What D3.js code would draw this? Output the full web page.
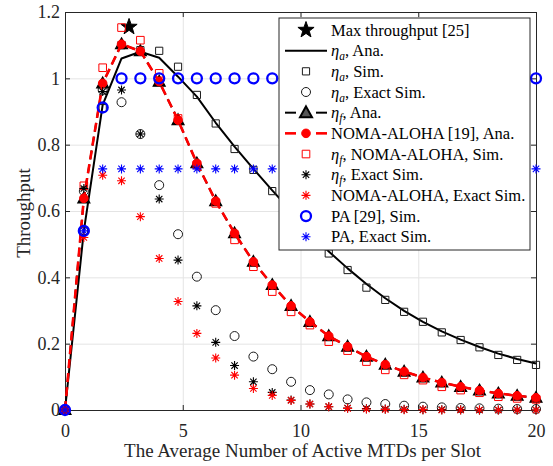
<!DOCTYPE html>
<html><head><meta charset="utf-8">
<script src="https://cdn.jsdelivr.net/npm/d3@7"></script>
<style>body{margin:0;background:#fff}svg{display:block}</style>
</head><body><svg id="c" width="553" height="466"></svg>
<script>
// ---------------- data ----------------
const xs = [0,0.8,1.6,2.4,3.2,4,4.8,5.6,6.4,7.2,8,8.8,9.6,10.4,11.2,12,12.8,13.6,14.4,15.2,16,16.8,17.6,18.4,19.2,20];
const maxThrX = [2.72];
const maxThrY = [1.155];
const etaAAna   = [0,0.54,0.92,1.06,1.08,1.062,1.005,0.945,0.866,0.794,0.727,0.662,0.600,0.540,0.478,0.427,0.380,0.337,0.299,0.266,0.237,0.212,0.190,0.170,0.154,0.140];
const etaASim   = [0,0.54,0.91,1.10,1.085,1.083,1.035,0.95,0.864,0.787,0.724,0.66,0.60,0.535,0.472,0.422,0.369,0.332,0.296,0.266,0.234,0.211,0.189,0.166,0.151,0.136];
const etaAExact = [0,0.66,0.965,0.928,0.832,0.678,0.53,0.402,0.301,0.223,0.161,0.123,0.085,0.06,0.047,0.032,0.023,0.018,0.013,0.01,0.008,0.006,0.005,0.004,0.003,0.003];
const etaFAna   = [0,0.638,0.985,1.103,1.082,0.99,0.874,0.744,0.63,0.533,0.447,0.377,0.314,0.266,0.223,0.191,0.161,0.137,0.116,0.098,0.083,0.07,0.059,0.05,0.043,0.037];
const nomaAna   = [0,0.638,0.985,1.103,1.082,0.99,0.874,0.744,0.63,0.533,0.447,0.377,0.314,0.266,0.223,0.191,0.161,0.137,0.116,0.098,0.083,0.07,0.059,0.05,0.043,0.037];
const nomaSim   = [0,0.676,1.032,1.153,1.115,1.015,0.879,0.739,0.623,0.513,0.432,0.357,0.296,0.256,0.206,0.179,0.146,0.121,0.106,0.09,0.07,0.06,0.052,0.04,0.035,0.032];
const etaFExact = [0,0.668,0.96,0.965,0.832,0.636,0.452,0.314,0.204,0.134,0.085,0.053,0.030,0.018,0.010,0.006,0.004,0.003,0.002,0.001,0.001,0.001,0,0,0,0];
const nomaExact = [0,0.52,0.708,0.691,0.583,0.457,0.327,0.231,0.157,0.105,0.065,0.044,0.029,0.018,0.010,0.005,0.003,0.002,0.001,0.001,0,0,0,0,0,0];
const paSim     = [0,0.54,0.912,1,1,1,1,1,1,1,1,1,1,1,1,1,1,1,1,1,1,1,1,1,1,1];
const paExact   = [0,0.54,0.727,0.727,0.727,0.727,0.727,0.727,0.727,0.727,0.727,0.727,0.727,0.727,0.727,0.727,0.727,0.727,0.727,0.727,0.727,0.727,0.727,0.727,0.727,0.727];
const xTicks = [0,5,10,15,20];
const xTickLabels = ["0","5","10","15","20"];
const yTicks = [0,0.2,0.4,0.6,0.8,1,1.2];
const yTickLabels = ["0","0.2","0.4","0.6","0.8","1","1.2"];
const xLabel = "The Average Number of Active MTDs per Slot";
const yLabel = "Throughput";
const legendLabels = [
  [{t:"Max throughput [25]"}],
  [{t:"η",i:1},{t:"a",i:1,s:1},{t:", Ana."}],
  [{t:"η",i:1},{t:"a",i:1,s:1},{t:", Sim."}],
  [{t:"η",i:1},{t:"a",i:1,s:1},{t:", Exact Sim."}],
  [{t:"η",i:1},{t:"f",i:1,s:1},{t:", Ana."}],
  [{t:"NOMA-ALOHA [19], Ana."}],
  [{t:"η",i:1},{t:"f",i:1,s:1},{t:", NOMA-ALOHA, Sim."}],
  [{t:"η",i:1},{t:"f",i:1,s:1},{t:", Exact Sim."}],
  [{t:"NOMA-ALOHA, Exact Sim."}],
  [{t:"PA [29], Sim."}],
  [{t:"PA, Exact Sim."}]
];

// ---------------- setup ----------------
const FONT = "'Liberation Serif','Times New Roman',serif";
const AX = "#262626";
const svg = d3.select("#c");
const x = d3.scaleLinear().domain([0,20]).range([65,536]);
const y = d3.scaleLinear().domain([0,1.2]).range([410,12]);
const [L,R] = x.range(), [B,T] = y.range();
const W = R-L, H = B-T;

// grid
svg.append("g").attr("transform",`translate(0,${B})`)
  .call(d3.axisBottom(x).tickValues(xTicks).tickSize(-H).tickFormat(""))
  .call(g=>{g.select(".domain").remove();g.selectAll("line").attr("stroke","#e4e4e4");});
svg.append("g").attr("transform",`translate(${L},0)`)
  .call(d3.axisLeft(y).tickValues(yTicks).tickSize(-W).tickFormat(""))
  .call(g=>{g.select(".domain").remove();g.selectAll("line").attr("stroke","#e4e4e4");});

// axes
function styleAxis(g){
  g.select(".domain").attr("stroke",AX);
  g.selectAll(".tick line").attr("stroke",AX);
  g.selectAll("text").attr("font-family",FONT).attr("font-size",18).attr("fill",AX);
}
svg.append("g").attr("transform",`translate(0,${B})`)
  .call(d3.axisBottom(x).tickValues(xTicks).tickSize(-5).tickPadding(14).tickSizeOuter(0).tickFormat((d,i)=>xTickLabels[i])).call(styleAxis);
svg.append("g").attr("transform",`translate(0,${T})`)
  .call(d3.axisTop(x).tickValues(xTicks).tickSize(-5).tickSizeOuter(0).tickFormat("")).call(styleAxis);
svg.append("g").attr("transform",`translate(${L},0)`)
  .call(d3.axisLeft(y).tickValues(yTicks).tickSize(-5).tickPadding(5).tickSizeOuter(0).tickFormat((d,i)=>yTickLabels[i])).call(styleAxis);
svg.append("g").attr("transform",`translate(${R},0)`)
  .call(d3.axisRight(y).tickValues(yTicks).tickSize(-5).tickSizeOuter(0).tickFormat("")).call(styleAxis);

// labels
svg.append("text").attr("x",(L+R)/2+2).attr("y",457).attr("text-anchor","middle")
  .attr("font-family",FONT).attr("font-size",19).attr("fill",AX).text(xLabel);
svg.append("text").attr("transform",`translate(30,${(T+B)/2+2}) rotate(-90)`).attr("text-anchor","middle")
  .attr("font-family",FONT).attr("font-size",19).attr("fill",AX).text(yLabel);

// ---------------- marker shapes ----------------
const shapes = {
  square: s=>`M${-s},${-s}H${s}V${s}H${-s}Z`,
  circle: r=>`M${r},0A${r},${r} 0 1,1 ${-r},0A${r},${r} 0 1,1 ${r},0Z`,
  asterisk: r=>{const d=r*0.7071;return `M${-r},0H${r}M0,${-r}V${r}M${-d},${-d}L${d},${d}M${-d},${d}L${d},${-d}`;},
  triangle: r=>`M0,${-r*1.05}L${r},${r*0.75}L${-r},${r*0.75}Z`,
  star: r=>{let p=[];for(let k=0;k<10;k++){const rr=k%2?r*0.4:r;const a=-Math.PI/2+k*Math.PI/5;p.push([rr*Math.cos(a),rr*Math.sin(a)]);}return "M"+p.map(q=>q.join(",")).join("L")+"Z";}
};
const styles = {
  maxStar:  {shape:"star",size:8.5,fill:"#000",stroke:"#000",sw:1},
  etaASim:  {shape:"square",size:3.6,fill:"none",stroke:"#1a1a1a",sw:1},
  etaAExact:{shape:"circle",size:4.5,fill:"none",stroke:"#1a1a1a",sw:1},
  etaFAna:  {shape:"triangle",size:6,fill:"#000",stroke:"#000",sw:1.2},
  nomaAna:  {shape:"circle",size:4.3,fill:"#ff0000",stroke:"#ff0000",sw:1},
  nomaSim:  {shape:"square",size:3.8,fill:"none",stroke:"#ff0000",sw:1},
  etaFExact:{shape:"asterisk",size:4.5,fill:"none",stroke:"#000",sw:1.1},
  nomaExact:{shape:"asterisk",size:4.5,fill:"none",stroke:"#ff0000",sw:1.1},
  paSim:    {shape:"circle",size:5,fill:"none",stroke:"#0000ff",sw:2.3},
  paExact:  {shape:"asterisk",size:4.5,fill:"none",stroke:"#0000ff",sw:1.1}
};
function markers(g, xv, yv, st){
  g.append("g").selectAll("path").data(xv.map((d,i)=>[d,yv[i]])).join("path")
    .attr("transform",d=>`translate(${x(d[0])},${y(d[1])})`)
    .attr("d",shapes[st.shape](st.size))
    .attr("fill",st.fill).attr("stroke",st.stroke).attr("stroke-width",st.sw)
    .attr("stroke-linejoin","miter");
}
function line(g, xv, yv, color, w, dash){
  const ln = d3.line().x(d=>x(d[0])).y(d=>y(d[1]));
  g.append("path").datum(xv.map((d,i)=>[d,yv[i]])).attr("d",ln)
    .attr("fill","none").attr("stroke",color).attr("stroke-width",w)
    .attr("stroke-dasharray",dash||null).attr("stroke-linejoin","round");
}

// ---------------- series ----------------
const plot = svg.append("g");
markers(plot, maxThrX, maxThrY, styles.maxStar);
line(plot, xs, etaAAna, "#000", 2);
markers(plot, xs, etaASim, styles.etaASim);
markers(plot, xs, etaAExact, styles.etaAExact);
line(plot, xs, etaFAna, "#000", 2, "9,5");
markers(plot, xs, etaFAna, styles.etaFAna);
line(plot, xs, nomaAna, "#ff0000", 2.6, "9,5");
markers(plot, xs, nomaAna, styles.nomaAna);
markers(plot, xs, nomaSim, styles.nomaSim);
markers(plot, xs, etaFExact, styles.etaFExact);
markers(plot, xs, nomaExact, styles.nomaExact);
markers(plot, xs, paSim, styles.paSim);
markers(plot, xs, paExact, styles.paExact);

// ---------------- legend ----------------
const leg = svg.append("g");
const lgX0 = 279, lgY0 = 18, lgW = 251, lgH = 232, rowH = 20.67, row0 = 30;
leg.append("rect").attr("x",lgX0).attr("y",lgY0).attr("width",lgW).attr("height",lgH)
  .attr("fill","#fff").attr("stroke",AX).attr("stroke-width",1);
const legendKeys = [
  {m:"maxStar"},{l:["#000",2,null]},{m:"etaASim"},{m:"etaAExact"},
  {m:"etaFAna",l:["#000",2,"dash"]},{m:"nomaAna",l:["#ff0000",2.6,"dash"]},
  {m:"nomaSim"},{m:"etaFExact"},{m:"nomaExact"},{m:"paSim"},{m:"paExact"}
];
const symX = 306, lnX0 = 285, lnX1 = 327, txtX = 331;
legendKeys.forEach((k,i)=>{
  const cy = lgY0 + (row0-lgY0) + i*rowH;
  if(k.l){
    if(k.l[2]==="dash"){
      [[lnX0,lnX0+11],[lnX1-11,lnX1]].forEach(s=>leg.append("line").attr("x1",s[0]).attr("x2",s[1]).attr("y1",cy).attr("y2",cy).attr("stroke",k.l[0]).attr("stroke-width",k.l[1]));
    } else {
      leg.append("line").attr("x1",lnX0).attr("x2",lnX1).attr("y1",cy).attr("y2",cy).attr("stroke",k.l[0]).attr("stroke-width",k.l[1]);
    }
  }
  if(k.m){
    const st = styles[k.m];
    leg.append("path").attr("transform",`translate(${symX},${cy})`).attr("d",shapes[st.shape](st.size))
      .attr("fill",k.m==="etaFAna"?"#555":st.fill).attr("stroke",st.stroke).attr("stroke-width",k.m==="etaFAna"?2:st.sw);
  }
  const t = leg.append("text").attr("x",txtX).attr("y",cy+5.5).attr("font-family",FONT).attr("font-size",16.5).attr("fill","#000");
  legendLabels[i].forEach(seg=>{
    const ts = t.append("tspan").text(seg.t);
    if(seg.i) ts.attr("font-style","italic");
    if(seg.s) ts.attr("font-size",11.5).attr("dy",4);
    else if(seg.t.startsWith(",")) ts.attr("dy", legendLabels[i].length>1? -4:0);
  });
});
</script>
</body></html>
